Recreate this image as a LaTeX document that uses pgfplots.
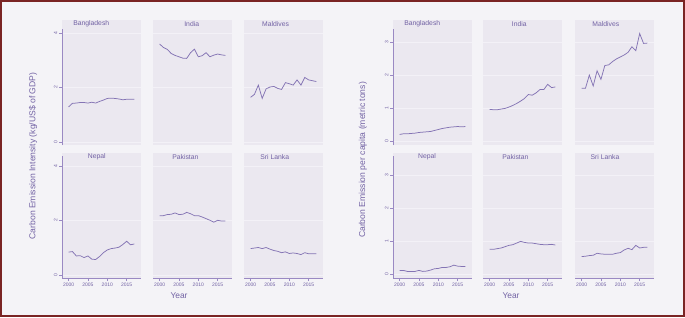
\documentclass[border=0pt]{standalone}
\usepackage{fontspec}
\setmainfont{Liberation Sans}
\usepackage{pgfplots}
\usepackage{pgfplotstable}
\pgfplotsset{compat=1.18}
\definecolor{bgc}{HTML}{F4F3F7}
\definecolor{panelc}{HTML}{EBE8F0}
\definecolor{gridc}{HTML}{F3F1F7}
\definecolor{linec}{HTML}{8474B4}
\definecolor{axisc}{HTML}{9A89C3}
\definecolor{textc}{HTML}{7262A4}
\definecolor{borderc}{HTML}{7A2424}

\pgfplotstableread{
year bgd ind mdv npl pak lka
2000 1.29 3.60 1.64 0.84 2.18 0.97
2001 1.42 3.47 1.75 0.86 2.18 0.99
2002 1.43 3.40 2.09 0.70 2.22 1.01
2003 1.45 3.25 1.60 0.71 2.23 0.97
2004 1.45 3.18 1.95 0.64 2.28 1.01
2005 1.43 3.13 2.02 0.70 2.22 0.95
2006 1.46 3.08 2.04 0.58 2.23 0.90
2007 1.43 3.07 1.97 0.57 2.30 0.87
2008 1.49 3.28 1.93 0.68 2.25 0.82
2009 1.54 3.41 2.18 0.82 2.18 0.85
2010 1.60 3.13 2.14 0.92 2.18 0.79
2011 1.61 3.17 2.09 0.97 2.13 0.81
2012 1.60 3.28 2.28 0.99 2.07 0.79
2013 1.58 3.13 2.09 1.02 2.01 0.75
2014 1.55 3.19 2.37 1.12 1.94 0.82
2015 1.57 3.23 2.28 1.24 2.01 0.78
2016 1.57 3.20 2.25 1.11 1.98 0.78
2017 1.57 3.18 2.22 1.14 1.98 0.78
}\intensity

\pgfplotstableread{
year bgd ind mdv npl pak lka
2000 0.21 0.97 1.61 0.12 0.76 0.54
2001 0.23 0.96 1.61 0.12 0.76 0.55
2002 0.23 0.96 2.01 0.09 0.78 0.57
2003 0.24 0.98 1.68 0.09 0.80 0.58
2004 0.25 1.00 2.14 0.09 0.84 0.64
2005 0.27 1.04 1.88 0.12 0.88 0.62
2006 0.28 1.09 2.30 0.09 0.90 0.61
2007 0.29 1.15 2.32 0.10 0.95 0.61
2008 0.30 1.22 2.42 0.13 1.00 0.61
2009 0.33 1.30 2.50 0.17 0.97 0.64
2010 0.36 1.42 2.56 0.18 0.95 0.66
2011 0.39 1.40 2.62 0.21 0.95 0.74
2012 0.41 1.47 2.70 0.21 0.93 0.79
2013 0.43 1.57 2.87 0.23 0.91 0.75
2014 0.44 1.57 2.75 0.28 0.90 0.88
2015 0.45 1.73 3.27 0.25 0.90 0.80
2016 0.44 1.63 2.97 0.24 0.91 0.82
2017 0.45 1.65 2.98 0.24 0.89 0.82
}\percapita

\tikzset{
  ptitle/.style={font=\fontsize{6.8}{7}\selectfont, text=textc},
  dline/.style={linec, line width=0.75pt},
}
\pgfplotsset{
  panel/.style={
    scale only axis, width=79pt, height=125pt, anchor=south west,
    axis background/.style={fill=panelc},
    axis line style={draw=none},
    xmin=1998.3, xmax=2018.7,
    ymajorgrids, grid style={gridc, line width=0.9pt},
    tick style={axisc, line width=0.6pt},
    tick align=outside, major tick length=3pt,
    ticklabel style={font=\fontsize{5}{5.5}\selectfont, text=textc},
    /pgf/number format/assume math mode=true,
    /pgf/number format/1000 sep={},
    clip=false,
  },
  leftfig/.style={ymin=-0.11, ymax=4.48, ytick={0,2,4}},
  rightfig/.style={ymin=-0.11, ymax=3.68, ytick={0,1,2,3}},
  firstcol/.style={ytick pos=left, yticklabel style={rotate=90, anchor=south, inner sep=1.5pt}},
  othercol/.style={yticklabels={}, ytick style={draw=none}},
  toprow/.style={xtick=\empty},
  bottomrow/.style={xtick={2000,2005,2010,2015}, xtick pos=left, xticklabel style={inner sep=2pt}},
}
\newcommand{\yaxisline}{\draw[axisc, line width=0.9pt] (rel axis cs:0,0) -- (rel axis cs:0,0.93);}
\newcommand{\yaxislineb}{\draw[axisc, line width=0.9pt] (rel axis cs:0,0) -- (rel axis cs:0,0.98);}
\newcommand{\xaxisline}{\draw[axisc, line width=0.9pt] (rel axis cs:0,0) -- (rel axis cs:1,0);}

\begin{document}
\begin{tikzpicture}
\useasboundingbox (0pt,0pt) rectangle (685pt,317pt);
\fill[bgc] (0pt,0pt) rectangle (685pt,317pt);
\draw[borderc, line width=2pt] (1pt,1pt) rectangle (684pt,316pt);

% ---------- Left figure: intensity ----------
\begin{axis}[panel, leftfig, firstcol, toprow, at={(62pt,172pt)}]
\addplot[dline] table[x=year, y=bgd] {\intensity};
\yaxisline
\node[ptitle] at (rel axis cs:0.37,0.968) {Bangladesh};
\end{axis}
\begin{axis}[panel, leftfig, othercol, toprow, at={(153pt,172pt)}]
\addplot[dline] table[x=year, y=ind] {\intensity};
\node[ptitle] at (rel axis cs:0.49,0.968) {India};
\end{axis}
\begin{axis}[panel, leftfig, othercol, toprow, at={(244pt,172pt)}]
\addplot[dline] table[x=year, y=mdv] {\intensity};
\node[ptitle] at (rel axis cs:0.40,0.968) {Maldives};
\end{axis}
\begin{axis}[panel, leftfig, firstcol, bottomrow, at={(62pt,39pt)}]
\addplot[dline] table[x=year, y=npl] {\intensity};
\yaxislineb \xaxisline
\node[ptitle] at (rel axis cs:0.44,0.968) {Nepal};
\end{axis}
\begin{axis}[panel, leftfig, othercol, bottomrow, at={(153pt,39pt)}]
\addplot[dline] table[x=year, y=pak] {\intensity};
\xaxisline
\node[ptitle] at (rel axis cs:0.41,0.968) {Pakistan};
\end{axis}
\begin{axis}[panel, leftfig, othercol, bottomrow, at={(244pt,39pt)}]
\addplot[dline] table[x=year, y=lka] {\intensity};
\xaxisline
\node[ptitle] at (rel axis cs:0.39,0.968) {Sri Lanka};
\end{axis}
\node[rotate=90, font=\fontsize{8.6}{9}\selectfont, text=textc] at (33pt,161pt) {Carbon Emission Intensity (kg/US\$ of GDP)};
\node[font=\fontsize{8.4}{9}\selectfont, text=textc] at (179pt,21pt) {Year};

% ---------- Right figure: per capita ----------
\begin{axis}[panel, rightfig, firstcol, toprow, at={(393pt,172pt)}]
\addplot[dline] table[x=year, y=bgd] {\percapita};
\yaxisline
\node[ptitle] at (rel axis cs:0.37,0.968) {Bangladesh};
\end{axis}
\begin{axis}[panel, rightfig, othercol, toprow, at={(483pt,172pt)}]
\addplot[dline] table[x=year, y=ind] {\percapita};
\node[ptitle] at (rel axis cs:0.46,0.968) {India};
\end{axis}
\begin{axis}[panel, rightfig, othercol, toprow, at={(575pt,172pt)}]
\addplot[dline] table[x=year, y=mdv] {\percapita};
\node[ptitle] at (rel axis cs:0.39,0.968) {Maldives};
\end{axis}
\begin{axis}[panel, rightfig, firstcol, bottomrow, at={(393pt,39pt)}]
\addplot[dline] table[x=year, y=npl] {\percapita};
\yaxislineb \xaxisline
\node[ptitle] at (rel axis cs:0.43,0.968) {Nepal};
\end{axis}
\begin{axis}[panel, rightfig, othercol, bottomrow, at={(483pt,39pt)}]
\addplot[dline] table[x=year, y=pak] {\percapita};
\xaxisline
\node[ptitle] at (rel axis cs:0.41,0.968) {Pakistan};
\end{axis}
\begin{axis}[panel, rightfig, othercol, bottomrow, at={(575pt,39pt)}]
\addplot[dline] table[x=year, y=lka] {\percapita};
\xaxisline
\node[ptitle] at (rel axis cs:0.38,0.968) {Sri Lanka};
\end{axis}
\node[rotate=90, font=\fontsize{8.6}{9}\selectfont, text=textc] at (363pt,157pt) {Carbon Emission per capita (metric tons)};
\node[font=\fontsize{8.4}{9}\selectfont, text=textc] at (511pt,21pt) {Year};
\end{tikzpicture}
\end{document}
